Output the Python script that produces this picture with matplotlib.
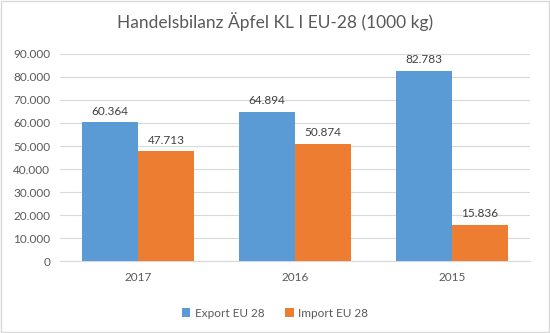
import matplotlib.pyplot as plt
import numpy as np

plt.rcParams['font.family'] = ['Lato', 'DejaVu Sans']

years = ['2017', '2016', '2015']
export_eu28 = [60364, 64894, 82783]
import_eu28 = [47713, 50874, 15836]

BLUE = '#5B9BD5'
ORANGE = '#ED7D31'
GRID = '#D9D9D9'
TXT = '#595959'


def fmt(v):
    return f'{v:,.0f}'.replace(',', '.')


fig = plt.figure(figsize=(5.5, 3.33), dpi=100)
ax = fig.add_axes([0.109, 0.216, 0.855, 0.622])

x = np.arange(len(years))
w = 0.357
b1 = ax.bar(x - w / 2, export_eu28, w, color=BLUE, label='Export EU 28', zorder=3)
b2 = ax.bar(x + w / 2, import_eu28, w, color=ORANGE, label='Import EU 28', zorder=3)

for bars, vals in ((b1, export_eu28), (b2, import_eu28)):
    for r, v in zip(bars, vals):
        ax.annotate(fmt(v), (r.get_x() + r.get_width() / 2, v),
                    xytext=(0, 4), textcoords='offset points',
                    ha='center', va='bottom', fontsize=8.5, color='#404040')

ax.set_xlim(-0.5, 2.5)
ax.set_ylim(0, 90000)
ax.set_yticks(np.arange(0, 90001, 10000))
ax.set_yticklabels([fmt(v) for v in np.arange(0, 90001, 10000)])
ax.set_xticks(x)
ax.set_xticklabels(years)
ax.yaxis.grid(True, color=GRID, linewidth=0.8, zorder=0)
for s in ('top', 'right', 'left'):
    ax.spines[s].set_visible(False)
ax.spines['bottom'].set_color(GRID)
ax.tick_params(axis='both', length=0, labelsize=8.5, labelcolor=TXT)
ax.tick_params(axis='y', pad=7)
ax.tick_params(axis='x', pad=8)

fig.text(0.5, 0.935, 'Handelsbilanz Äpfel KL I EU-28 (1000 kg)',
         ha='center', va='center', fontsize=12.5, color=TXT)

fig.legend(handles=[b1, b2], loc='center', bbox_to_anchor=(0.5, 0.06),
           ncol=2, frameon=False, fontsize=8.5, labelcolor=TXT,
           handlelength=0.7, handleheight=0.7, handletextpad=0.4,
           columnspacing=1.8)

fig.patches.append(plt.Rectangle((0.001, 0.002), 0.997, 0.995,
                                 transform=fig.transFigure, fill=False,
                                 edgecolor=GRID, linewidth=1))

fig.savefig('out.png', dpi=100)
